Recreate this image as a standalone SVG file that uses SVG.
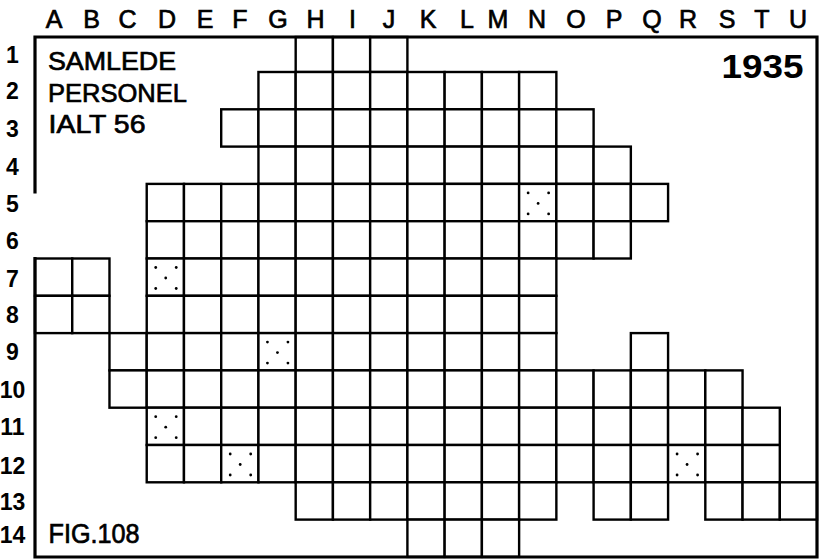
<svg xmlns="http://www.w3.org/2000/svg" xmlns:xlink="http://www.w3.org/1999/xlink" width="819" height="560" viewBox="0 0 819 560">
<style>
.c{fill:#fff;stroke:#000;stroke-width:2.4}
.frame{fill:none;stroke:#000;stroke-width:3.2;stroke-linecap:square}
.col{font-family:"Liberation Sans",Arial,sans-serif;font-size:25px;text-anchor:middle;fill:#000;stroke:#000;stroke-width:0.7}
.row{font-family:"Liberation Sans",Arial,sans-serif;font-size:23px;font-weight:bold;text-anchor:middle;fill:#000}
.t{font-family:"Liberation Sans",Arial,sans-serif;font-size:26px;fill:#000;stroke:#000;stroke-width:0.7}
.d{fill:#000}
</style>
<defs>
<rect id="cell" class="c" width="37.24" height="37.3"/>
<rect id="cell1" class="c" width="37.24" height="35"/>
<g id="dots">
<circle class="d" cx="9" cy="9" r="1.4"/>
<circle class="d" cx="29.5" cy="9" r="1.4"/>
<circle class="d" cx="19" cy="19.5" r="1.4"/>
<circle class="d" cx="9" cy="30" r="1.4"/>
<circle class="d" cx="29.5" cy="30" r="1.4"/>
</g>
</defs>
<rect width="819" height="560" fill="#fff"/>

<g id="column-labels">
<text class="col" x="54" y="28">A</text>
<text class="col" x="91.5" y="28">B</text>
<text class="col" x="127.5" y="28">C</text>
<text class="col" x="167" y="28">D</text>
<text class="col" x="205" y="28">E</text>
<text class="col" x="240" y="28">F</text>
<text class="col" x="278" y="28">G</text>
<text class="col" x="315.5" y="28">H</text>
<text class="col" x="352.5" y="28">I</text>
<text class="col" x="389" y="28">J</text>
<text class="col" x="428" y="28">K</text>
<text class="col" x="467" y="28">L</text>
<text class="col" x="498" y="28">M</text>
<text class="col" x="537" y="28">N</text>
<text class="col" x="576" y="28">O</text>
<text class="col" x="614" y="28">P</text>
<text class="col" x="652" y="28">Q</text>
<text class="col" x="688" y="28">R</text>
<text class="col" x="727" y="28">S</text>
<text class="col" x="762" y="28">T</text>
<text class="col" x="798" y="28">U</text>
</g>

<g id="row-labels">
<text class="row" x="12.5" y="63">1</text>
<text class="row" x="12.5" y="99">2</text>
<text class="row" x="12.5" y="137">3</text>
<text class="row" x="12.5" y="175">4</text>
<text class="row" x="12.5" y="212">5</text>
<text class="row" x="12.5" y="249">6</text>
<text class="row" x="12.5" y="287">7</text>
<text class="row" x="12.5" y="323">8</text>
<text class="row" x="12.5" y="360">9</text>
<text class="row" x="12.5" y="398">10</text>
<text class="row" x="12.5" y="435">11</text>
<text class="row" x="12.5" y="474">12</text>
<text class="row" x="12.5" y="510">13</text>
<text class="row" x="12.5" y="543">14</text>
</g>

<g id="grid">
<g id="row-1">
<use xlink:href="#cell1" href="#cell1" x="295.68" y="37"/>
<use xlink:href="#cell1" href="#cell1" x="332.92" y="37"/>
<use xlink:href="#cell1" href="#cell1" x="370.16" y="37"/>
</g>
<g id="row-2" transform="translate(0,72)">
<use href="#cell" x="258.44"/><use href="#cell" x="295.68"/><use href="#cell" x="332.92"/><use href="#cell" x="370.16"/>
<use href="#cell" x="407.4"/><use href="#cell" x="444.64"/><use href="#cell" x="481.88"/><use href="#cell" x="519.12"/>
</g>
<g id="row-3" transform="translate(0,109.3)">
<use href="#cell" x="221.2"/><use href="#cell" x="258.44"/><use href="#cell" x="295.68"/><use href="#cell" x="332.92"/><use href="#cell" x="370.16"/>
<use href="#cell" x="407.4"/><use href="#cell" x="444.64"/><use href="#cell" x="481.88"/><use href="#cell" x="519.12"/><use href="#cell" x="556.36"/>
</g>
<g id="row-4" transform="translate(0,146.6)">
<use href="#cell" x="258.44"/><use href="#cell" x="295.68"/><use href="#cell" x="332.92"/><use href="#cell" x="370.16"/>
<use href="#cell" x="407.4"/><use href="#cell" x="444.64"/><use href="#cell" x="481.88"/><use href="#cell" x="519.12"/><use href="#cell" x="556.36"/><use href="#cell" x="593.6"/>
</g>
<g id="row-5" transform="translate(0,183.9)">
<use href="#cell" x="146.72"/><use href="#cell" x="183.96"/><use href="#cell" x="221.2"/><use href="#cell" x="258.44"/><use href="#cell" x="295.68"/><use href="#cell" x="332.92"/><use href="#cell" x="370.16"/>
<use href="#cell" x="407.4"/><use href="#cell" x="444.64"/><use href="#cell" x="481.88"/><use href="#cell" x="519.12"/><use href="#cell" x="556.36"/><use href="#cell" x="593.6"/><use href="#cell" x="630.84"/>
<use href="#dots" x="519.12"/>
</g>
<g id="row-6" transform="translate(0,221.2)">
<use href="#cell" x="146.72"/><use href="#cell" x="183.96"/><use href="#cell" x="221.2"/><use href="#cell" x="258.44"/><use href="#cell" x="295.68"/><use href="#cell" x="332.92"/><use href="#cell" x="370.16"/>
<use href="#cell" x="407.4"/><use href="#cell" x="444.64"/><use href="#cell" x="481.88"/><use href="#cell" x="519.12"/><use href="#cell" x="556.36"/><use href="#cell" x="593.6"/>
</g>
<g id="row-7" transform="translate(0,258.5)">
<use href="#cell" x="35"/><use href="#cell" x="72.24"/>
<use href="#cell" x="146.72"/><use href="#cell" x="183.96"/><use href="#cell" x="221.2"/><use href="#cell" x="258.44"/><use href="#cell" x="295.68"/><use href="#cell" x="332.92"/><use href="#cell" x="370.16"/>
<use href="#cell" x="407.4"/><use href="#cell" x="444.64"/><use href="#cell" x="481.88"/><use href="#cell" x="519.12"/>
<use href="#dots" x="146.72"/>
</g>
<g id="row-8" transform="translate(0,295.8)">
<use href="#cell" x="35"/><use href="#cell" x="72.24"/>
<use href="#cell" x="146.72"/><use href="#cell" x="183.96"/><use href="#cell" x="221.2"/><use href="#cell" x="258.44"/><use href="#cell" x="295.68"/><use href="#cell" x="332.92"/><use href="#cell" x="370.16"/>
<use href="#cell" x="407.4"/><use href="#cell" x="444.64"/><use href="#cell" x="481.88"/><use href="#cell" x="519.12"/>
</g>
<g id="row-9" transform="translate(0,333.1)">
<use href="#cell" x="109.48"/><use href="#cell" x="146.72"/><use href="#cell" x="183.96"/><use href="#cell" x="221.2"/><use href="#cell" x="258.44"/><use href="#cell" x="295.68"/><use href="#cell" x="332.92"/><use href="#cell" x="370.16"/>
<use href="#cell" x="407.4"/><use href="#cell" x="444.64"/><use href="#cell" x="481.88"/><use href="#cell" x="519.12"/>
<use href="#cell" x="630.84"/>
<use href="#dots" x="258.44"/>
</g>
<g id="row-10" transform="translate(0,370.4)">
<use href="#cell" x="109.48"/><use href="#cell" x="146.72"/><use href="#cell" x="183.96"/><use href="#cell" x="221.2"/><use href="#cell" x="258.44"/><use href="#cell" x="295.68"/><use href="#cell" x="332.92"/><use href="#cell" x="370.16"/>
<use href="#cell" x="407.4"/><use href="#cell" x="444.64"/><use href="#cell" x="481.88"/><use href="#cell" x="519.12"/><use href="#cell" x="556.36"/><use href="#cell" x="593.6"/><use href="#cell" x="630.84"/><use href="#cell" x="668.08"/><use href="#cell" x="705.32"/>
</g>
<g id="row-11" transform="translate(0,407.7)">
<use href="#cell" x="146.72"/><use href="#cell" x="183.96"/><use href="#cell" x="221.2"/><use href="#cell" x="258.44"/><use href="#cell" x="295.68"/><use href="#cell" x="332.92"/><use href="#cell" x="370.16"/>
<use href="#cell" x="407.4"/><use href="#cell" x="444.64"/><use href="#cell" x="481.88"/><use href="#cell" x="519.12"/><use href="#cell" x="556.36"/><use href="#cell" x="593.6"/><use href="#cell" x="630.84"/><use href="#cell" x="668.08"/><use href="#cell" x="705.32"/><use href="#cell" x="742.56"/>
<use href="#dots" x="146.72"/>
</g>
<g id="row-12" transform="translate(0,445)">
<use href="#cell" x="146.72"/><use href="#cell" x="183.96"/><use href="#cell" x="221.2"/><use href="#cell" x="258.44"/><use href="#cell" x="295.68"/><use href="#cell" x="332.92"/><use href="#cell" x="370.16"/>
<use href="#cell" x="407.4"/><use href="#cell" x="444.64"/><use href="#cell" x="481.88"/><use href="#cell" x="519.12"/><use href="#cell" x="556.36"/><use href="#cell" x="593.6"/><use href="#cell" x="630.84"/><use href="#cell" x="668.08"/><use href="#cell" x="705.32"/><use href="#cell" x="742.56"/>
<use href="#dots" x="221.2"/><use href="#dots" x="668.08"/>
</g>
<g id="row-13" transform="translate(0,482.3)">
<use href="#cell" x="295.68"/><use href="#cell" x="332.92"/><use href="#cell" x="370.16"/>
<use href="#cell" x="407.4"/><use href="#cell" x="444.64"/><use href="#cell" x="481.88"/><use href="#cell" x="519.12"/>
<use href="#cell" x="593.6"/><use href="#cell" x="630.84"/>
<use href="#cell" x="705.32"/><use href="#cell" x="742.56"/><use href="#cell" x="779.8"/>
</g>
<g id="row-14" transform="translate(0,519.6)">
<use href="#cell" x="407.4"/><use href="#cell" x="444.64"/><use href="#cell" x="481.88"/>
</g>
</g>

<path id="frame" class="frame" d="M35,192 V37 H817 V557 H35 V258.5"/>

<g id="labels">
<text class="t" x="48" y="70" textLength="128" lengthAdjust="spacingAndGlyphs">SAMLEDE</text>
<text class="t" x="48" y="101.5" textLength="139" lengthAdjust="spacingAndGlyphs">PERSONEL</text>
<text class="t" x="48.5" y="133" textLength="97" lengthAdjust="spacingAndGlyphs">IALT 56</text>
<text class="t" x="721.5" y="78" style="font-size:33px;font-weight:bold;stroke-width:0" textLength="82" lengthAdjust="spacingAndGlyphs">1935</text>
<text class="t" x="48.5" y="543" style="font-size:27px" textLength="91" lengthAdjust="spacingAndGlyphs">FIG.108</text>
</g>
</svg>
